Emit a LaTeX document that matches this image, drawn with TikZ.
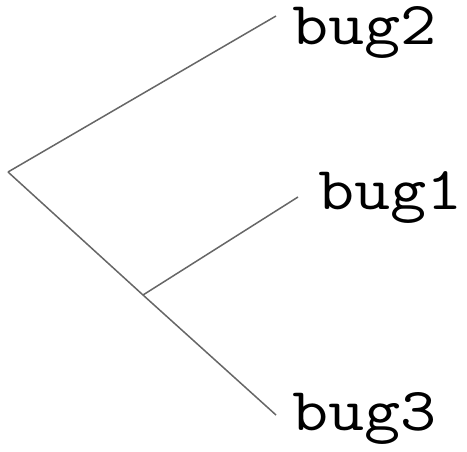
\documentclass[tikz,border=0pt]{standalone}
\usepackage{fontspec}
\usepackage{graphicx}
\definecolor{edgegray}{RGB}{102,102,102}
\newcommand{\widetip}[1]{\scalebox{1.15}[1]{#1}}
\begin{document}
\begin{tikzpicture}[x=1pt,y=1pt,
  edge/.style={draw=edgegray,line width=1.5pt},
  tiplabel/.style={anchor=base west,inner sep=0pt,font=\ttfamily\fontsize{61}{61}\selectfont}]
\useasboundingbox (0,0) rectangle (467,451);
\coordinate (root) at (8,279);
\coordinate (inner) at (143,156);
\coordinate (t2) at (276,435);
\coordinate (t1) at (298,254);
\coordinate (t3) at (276,36);
\node[tiplabel] (bug2) at (292,406) {\widetip{bug2}};
\node[tiplabel] (bug1) at (318,241) {\widetip{bug1}};
\node[tiplabel] (bug3) at (292,21) {\widetip{bug3}};
\draw[edge] (root) -- (t2);
\draw[edge] (root) -- (inner);
\draw[edge] (inner) -- (t1);
\draw[edge] (inner) -- (t3);
\end{tikzpicture}
\end{document}
